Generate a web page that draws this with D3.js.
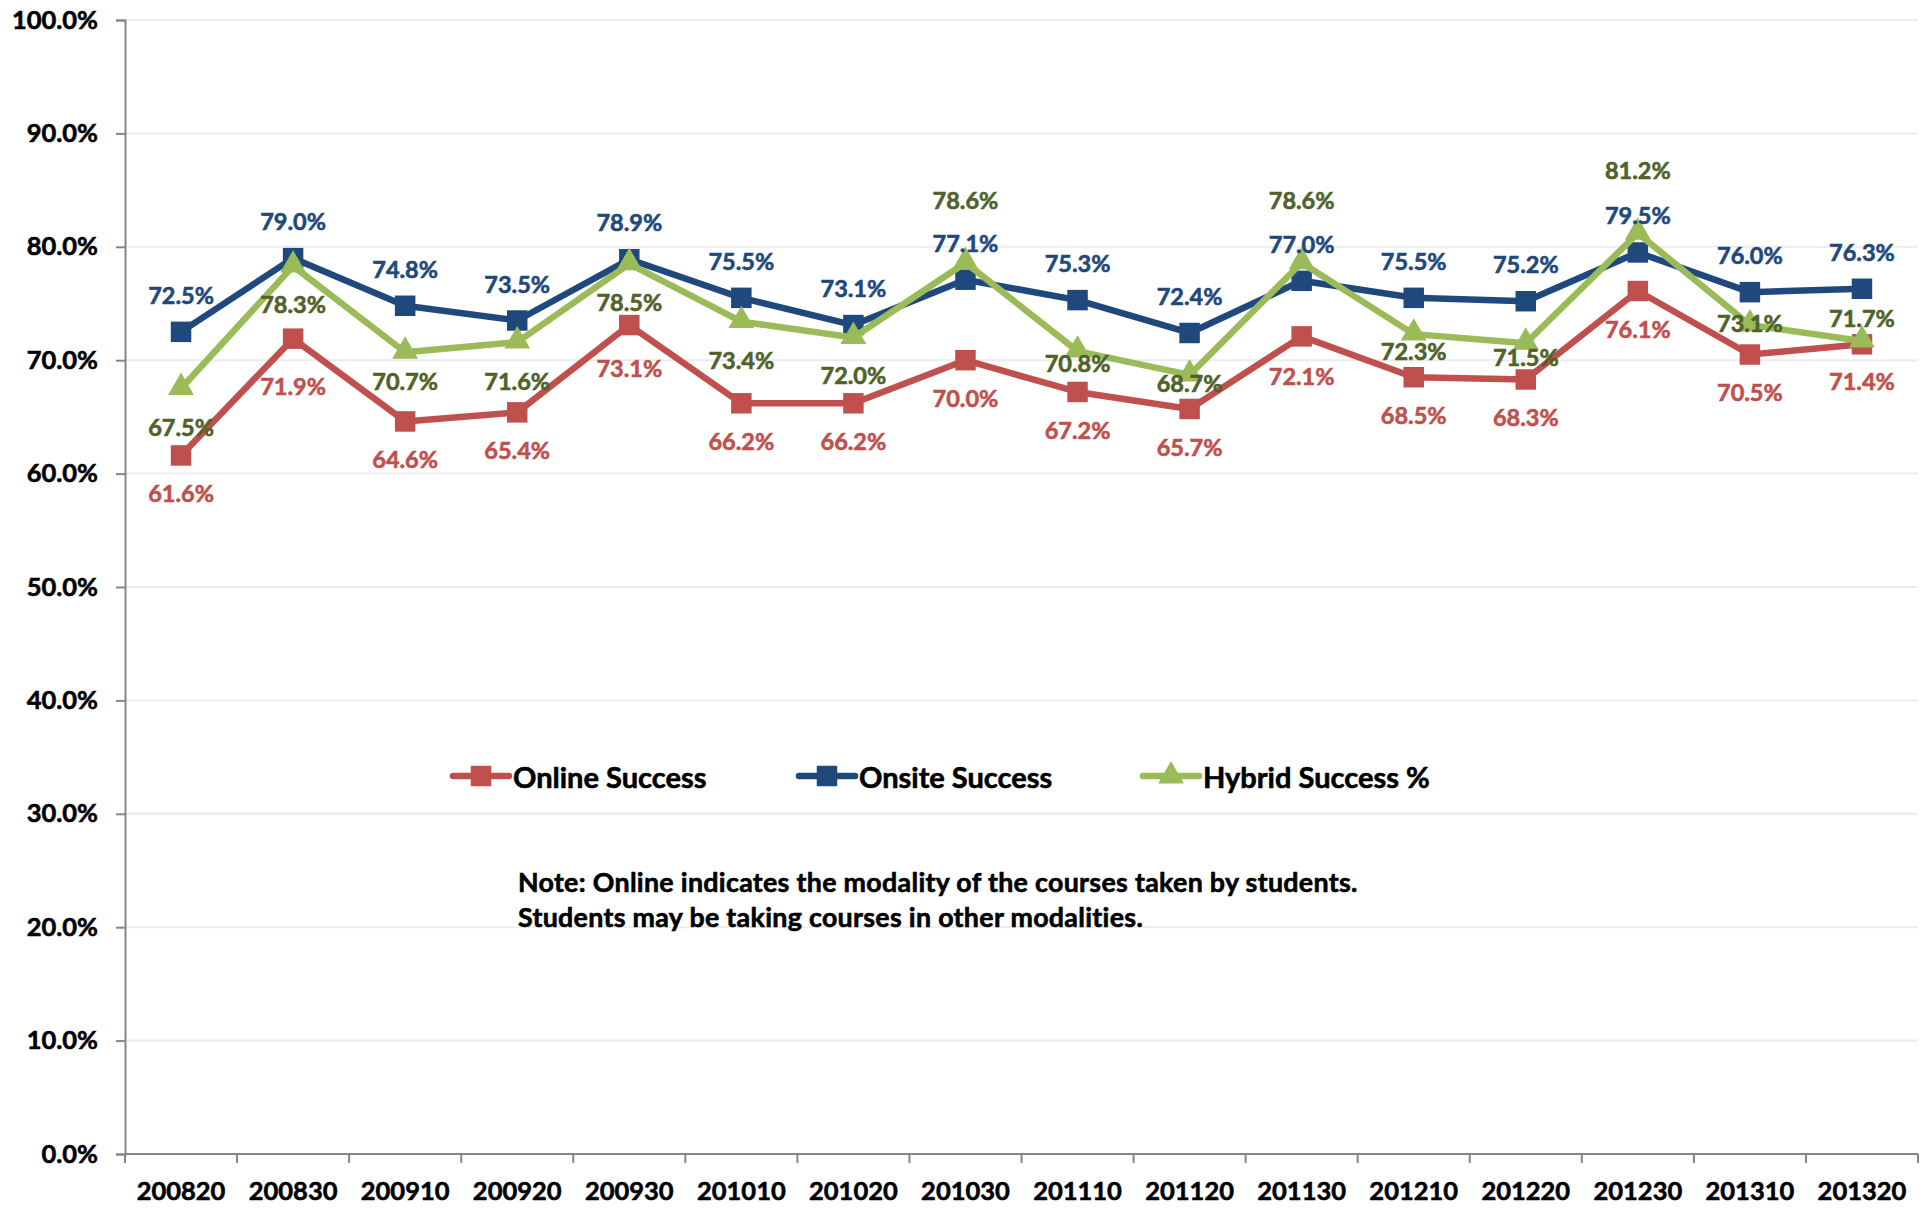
<!DOCTYPE html>
<html>
<head>
<meta charset="utf-8">
<script src="https://cdn.jsdelivr.net/npm/d3@7"></script>
<style>
  html, body { margin: 0; padding: 0; background: #ffffff; }
  svg { display: block; font-family: Lato, "Open Sans", sans-serif; font-weight: 700; }
  .thick { stroke-width: 0.6px; paint-order: stroke; }
</style>
</head>
<body>
<svg id="chart" width="1923" height="1208"></svg>
<script>
// ---- data ----
const categories = ["200820","200830","200910","200920","200930","201010","201020","201030","201110","201120","201130","201210","201220","201230","201310","201320"];
const onlineSuccess = [61.6, 71.9, 64.6, 65.4, 73.1, 66.2, 66.2, 70.0, 67.2, 65.7, 72.1, 68.5, 68.3, 76.1, 70.5, 71.4];
const onsiteSuccess = [72.5, 79.0, 74.8, 73.5, 78.9, 75.5, 73.1, 77.1, 75.3, 72.4, 77.0, 75.5, 75.2, 79.5, 76.0, 76.3];
const hybridSuccess = [67.5, 78.3, 70.7, 71.6, 78.5, 73.4, 72.0, 78.6, 70.8, 68.7, 78.6, 72.3, 71.5, 81.2, 73.1, 71.7];
const seriesNames = ["Online Success", "Onsite Success", "Hybrid Success %"];
const yTicks = [0, 10, 20, 30, 40, 50, 60, 70, 80, 90, 100];
const noteLines = ["Note: Online indicates the modality of the courses taken by students.",
                   "Students may be taking courses in other modalities."];

// label offsets (layout only, px relative to point)
const onlineLabelDy = [38, 47, 38, 38, 43, 38, 38, 38, 38, 38, 40, 38, 38, 38, 37, 37];
const onsiteLabelDy = categories.map(() => -37);
const hybridLabelDy = [38, 38, 29, 39, 38, 38, 37.5, -63, 11.5, 8.5, -63, 16.5, 13.5, -63, -2, -23];

(function () {
// ---- layout ----
const svg = d3.select("#chart");
const mLeft = 125, mRight = 1918, mTop = 20, mBottom = 1154;

const x = d3.scaleBand().domain(categories).range([mLeft, mRight]).padding(0);
const y = d3.scaleLinear().domain([0, 100]).range([mBottom, mTop]);

// gridlines
svg.append("g").selectAll("line").data(yTicks.filter(d => d > 0)).join("line")
  .attr("x1", mLeft).attr("x2", mRight)
  .attr("y1", d => y(d)).attr("y2", d => y(d))
  .attr("stroke", "#ececec").attr("stroke-width", 2);

// y axis
const yAxis = d3.axisLeft(y).tickValues(yTicks).tickFormat(d => d.toFixed(1) + "%").tickSize(9).tickPadding(18);
const gy = svg.append("g").attr("transform", `translate(${mLeft},0)`).call(yAxis);
gy.select(".domain").attr("stroke", "#868686").attr("stroke-width", 2);
gy.selectAll(".tick line").attr("stroke", "#868686").attr("stroke-width", 2);
gy.selectAll(".tick text").attr("fill", "#000").attr("stroke", "#000").attr("class", "thick")
  .style("font-size", "25.5px").style("font-family", "Lato, sans-serif").style("font-weight", 700);

// x axis with ticks at boundaries
const gx = svg.append("g").attr("transform", `translate(0,${mBottom})`);
gx.append("line").attr("x1", mLeft).attr("x2", mRight).attr("y1", 0).attr("y2", 0)
  .attr("stroke", "#868686").attr("stroke-width", 2);
const boundaries = categories.map(c => x(c)).concat([mRight]);
gx.selectAll("line.tk").data(boundaries).join("line").attr("class", "tk")
  .attr("x1", d => d).attr("x2", d => d).attr("y1", 0).attr("y2", 9)
  .attr("stroke", "#868686").attr("stroke-width", 2);
gx.selectAll("text").data(categories).join("text")
  .attr("x", d => x(d) + x.bandwidth() / 2).attr("y", 39)
  .attr("text-anchor", "middle").attr("dominant-baseline", "middle")
  .attr("class", "thick").attr("stroke", "#000")
  .style("font-size", "25.5px").attr("fill", "#000").text(d => d);

const cx = (i) => x(categories[i]) + x.bandwidth() / 2;

const series = [
  { name: seriesNames[0], values: onlineSuccess, color: "#C0504D", labelColor: "#C0504D", marker: "square", dy: onlineLabelDy },
  { name: seriesNames[1], values: onsiteSuccess, color: "#1F497D", labelColor: "#1F497D", marker: "square", dy: onsiteLabelDy },
  { name: seriesNames[2], values: hybridSuccess, color: "#9BBB59", labelColor: "#4F6228", marker: "triangle", dy: hybridLabelDy }
];

const line = d3.line().x((d, i) => cx(i)).y(d => y(d));
const sqSym = d3.symbol().type(d3.symbolSquare).size(420);
const triSym = d3.symbol().type(d3.symbolTriangle).size(290);

series.forEach(s => {
  const g = svg.append("g");
  g.append("path").datum(s.values).attr("d", line)
    .attr("fill", "none").attr("stroke", s.color).attr("stroke-width", 6.5)
    .attr("stroke-linejoin", "round");
  g.selectAll("path.m").data(s.values).join("path").attr("class", "m")
    .attr("d", s.marker === "square" ? sqSym() : triSym())
    .attr("transform", (d, i) => `translate(${cx(i)},${y(d) + (s.marker === "triangle" ? -1 : 0)})`)
    .attr("fill", s.color);
});

series.forEach(s => {
  svg.append("g").selectAll("text").data(s.values).join("text")
    .attr("x", (d, i) => cx(i)).attr("y", (d, i) => y(d) + s.dy[i])
    .attr("text-anchor", "middle").attr("dominant-baseline", "central")
    .attr("class", "thick").attr("stroke", s.labelColor)
    .style("font-size", "23.5px").attr("fill", s.labelColor)
    .text(d => d.toFixed(1) + "%");
});

// legend
const legendItems = [
  { s: series[0], x0: 453 },
  { s: series[1], x0: 799 },
  { s: series[2], x0: 1143 }
];
const lg = svg.append("g");
legendItems.forEach(it => {
  const ly = 776;
  lg.append("line").attr("x1", it.x0).attr("x2", it.x0 + 56).attr("y1", ly).attr("y2", ly)
    .attr("stroke", it.s.color).attr("stroke-width", 6.5).attr("stroke-linecap", "round");
  lg.append("path").attr("d", it.s.marker === "square" ? sqSym() : triSym())
    .attr("transform", `translate(${it.x0 + 28},${ly})`).attr("fill", it.s.color);
  lg.append("text").attr("x", it.x0 + 60).attr("y", ly).attr("dominant-baseline", "central")
    .attr("class", "thick").attr("stroke", "#000")
    .style("font-size", "29px").attr("fill", "#000").text(it.s.name);
});

// note
svg.append("g").selectAll("text").data(noteLines).join("text")
  .attr("x", 518).attr("y", (d, i) => 882 + i * 35)
  .attr("dominant-baseline", "central")
  .attr("class", "thick").attr("stroke", "#000")
  .style("font-size", "26.8px").style("letter-spacing", "0.3px").attr("fill", "#000").text(d => d);
})();
</script>
</body>
</html>
